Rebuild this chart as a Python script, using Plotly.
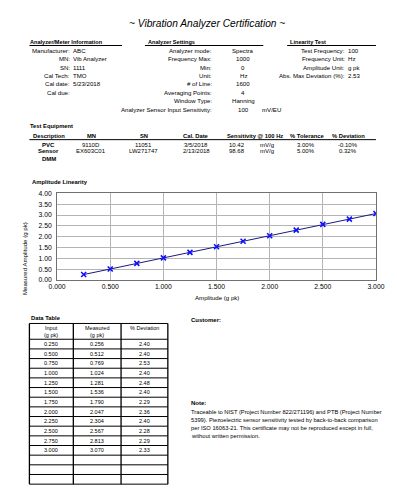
import plotly.graph_objects as go

W, H = 397, 489
FONT = "Liberation Sans, Arial, sans-serif"

# ---------------- data ----------------
input_g = [0.250, 0.500, 0.750, 1.000, 1.250, 1.500, 1.750, 2.000, 2.250, 2.500, 2.750, 3.000]
measured_g = [0.256, 0.512, 0.769, 1.024, 1.281, 1.536, 1.790, 2.047, 2.304, 2.567, 2.813, 3.070]
deviation_pct = [2.40, 2.40, 2.53, 2.40, 2.48, 2.40, 2.29, 2.36, 2.40, 2.28, 2.29, 2.33]
empty_rows = 3

meter_labels = ["Manufacturer:", "MN:", "SN:", "Cal Tech:", "Cal date:", "Cal due:"]
meter_values = ["ABC", "Vib Analyzer", "1111", "TMO", "5/23/2018", ""]

settings_labels = ["Analyzer mode:", "Frequency Max:", "Min:", "Unit:", "# of Line:",
                   "Averaging Points:", "Window Type:", "Analyzer Sensor Input Sensitivity:"]
settings_values = ["Spectra", "1000", "0", "Hz", "1600", "4", "Hanning", "100"]
settings_unit = "mV/EU"

linearity_labels = ["Test Frequency:", "Frequency Unit:", "Amplitude Unit:", "Abs. Max Deviation (%):"]
linearity_values = ["100", "Hz", "g pk", "2.53"]

equip_headers = ["Description", "MN", "SN", "Cal. Date", "Sensitivity @ 100 Hz", "% Tolerance", "% Deviation"]
equip_rows = [
    ["PVC", "9110D", "11051", "3/5/2018", "10.42", "mV/g", "3.00%", "-0.10%"],
    ["Sensor", "EX603C01", "LW271747", "2/13/2018", "98.68", "mV/g", "5.00%", "0.32%"],
    ["DMM", "", "", "", "", "", "", ""],
]

note_lines = [
    "Traceable to NIST (Project Number 822/271196) and PTB (Project Number",
    "5399). Piezoelectric sensor sensitivity tested by back-to-back comparison",
    "per ISO 16063-21. This certificate may not be reproduced except in full,",
    "without written permission.",
]

x_ticks = [0, 0.5, 1.0, 1.5, 2.0, 2.5, 3.0]
y_ticks = [0, 0.5, 1.0, 1.5, 2.0, 2.5, 3.0, 3.5, 4.0]

# ---------------- helpers ----------------
def X(px):
    return px / W

def Y(py):
    return 1 - py / H

annotations = []
shapes = []

def txt(x, y, s, size=6.1, bold=False, italic=False, anchor="left", angle=0):
    if bold:
        s = "<b>" + s + "</b>"
    if italic:
        s = "<i>" + s + "</i>"
    annotations.append(dict(
        x=X(x), y=Y(y), xref="paper", yref="paper", text=s, showarrow=False,
        xanchor=anchor, yanchor="middle", textangle=angle, borderpad=0, borderwidth=0,
        font=dict(size=size, family=FONT, color="black")))

def hline(x0, x1, y, color="black", width=1):
    shapes.append(dict(type="line", xref="paper", yref="paper",
                       x0=X(x0), x1=X(x1), y0=Y(y), y1=Y(y),
                       line=dict(color=color, width=width)))

def vline(x, y0, y1, color="black", width=1):
    shapes.append(dict(type="line", xref="paper", yref="paper",
                       x0=X(x), x1=X(x), y0=Y(y0), y1=Y(y1),
                       line=dict(color=color, width=width)))

# ---------------- header ----------------
txt(199, 12, "~ Vibration Analyzer Certification ~", size=10.2, italic=True, anchor="center")

txt(14, 30, "Analyzer/Meter Information", size=5.6, bold=True)
hline(13, 110, 34)
txt(137, 30, "Analyzer Settings", size=5.6, bold=True)
hline(134, 258, 34)
txt(286, 30, "Linearity Test", size=5.6, bold=True)
hline(283, 376, 34)

row_y = [39, 47.5, 56, 64.5, 73, 81.5, 90, 98.5]
for i, (lab, val) in enumerate(zip(meter_labels, meter_values)):
    txt(55, row_y[i], lab, anchor="right")
    txt(59, row_y[i], val)
for i, (lab, val) in enumerate(zip(settings_labels, settings_values)):
    txt(204, row_y[i], lab, anchor="right")
    txt(237, row_y[i], val, anchor="center")
txt(257, row_y[7], settings_unit)
for i, (lab, val) in enumerate(zip(linearity_labels, linearity_values)):
    txt(344, row_y[i], lab, anchor="right")
    txt(347, row_y[i], val)

# ---------------- test equipment ----------------
txt(14, 116, "Test Equipment", size=5.8, bold=True)
eq_head_x = [33, 78, 133, 188, 249, 304, 347]
for hx, h in zip(eq_head_x, equip_headers):
    txt(hx, 125.5, h, size=5.8, bold=True, anchor="center")
hline(13, 376, 129.5)
eq_col_x = [33, 78, 133, 188, 230, 262, 303, 347]
eq_row_y = [134.5, 141.5, 149]
for r, row in enumerate(equip_rows):
    for c, v in enumerate(row):
        if v:
            txt(eq_col_x[c], eq_row_y[r], v, size=6.0, bold=(c == 0), anchor="center")

# ---------------- chart labels ----------------
txt(16, 172, "Amplitude Linearity", size=5.9, bold=True)
txt(8, 250, "Measured Amplitude (g pk)", size=6.1, anchor="center", angle=-90)
txt(209, 290, "Amplitude (g pk)", size=6.1, anchor="center")

# ---------------- data table ----------------
txt(15, 310, "Data Table", size=5.8, bold=True)
col_x = [13, 59, 109, 158]
top, head_bot = 316, 332
n_rows = len(input_g) + empty_rows
row_h = (479 - head_bot) / n_rows
bottom = head_bot + n_rows * row_h
hline(col_x[0], col_x[-1], top, width=1)
hline(col_x[0], col_x[-1], head_bot, width=1)
for k in range(1, n_rows + 1):
    hline(col_x[0], col_x[-1], head_bot + k * row_h, width=1)
for cx in col_x:
    vline(cx, top, bottom, width=1.3)
centers = [(col_x[i] + col_x[i + 1]) / 2 for i in range(3)]
TS = 5.5
txt(centers[0], 320.5, "Input", size=TS, anchor="center")
txt(centers[0], 327.5, "(g pk)", size=TS, anchor="center")
txt(centers[1], 320.5, "Measured", size=TS, anchor="center")
txt(centers[1], 327.5, "(g pk)", size=TS, anchor="center")
txt(centers[2], 320.5, "% Deviation", size=TS, anchor="center")
for i, (a, m, d) in enumerate(zip(input_g, measured_g, deviation_pct)):
    yc = head_bot + (i + 0.5) * row_h
    txt(centers[0], yc, f"{a:.3f}", size=TS, anchor="center")
    txt(centers[1], yc, f"{m:.3f}", size=TS, anchor="center")
    txt(centers[2], yc, f"{d:.2f}", size=TS, anchor="center")

# ---------------- customer / note ----------------
txt(182, 312, "Customer:", size=6.0, bold=True)
txt(182, 397, "Note:", size=6.0, bold=True)
for i, line in enumerate(note_lines):
    txt(182, 406 + i * 8.1, line, size=5.75)

# bottom page edge
shapes.append(dict(type="rect", xref="paper", yref="paper", x0=0, x1=1,
                   y0=0, y1=Y(487), fillcolor="#e6e6e6", line=dict(width=0), layer="below"))

# ---------------- chart ----------------
fig = go.Figure()
fig.add_trace(go.Scatter(
    x=input_g, y=measured_g, mode="lines+markers",
    line=dict(color="#1a1a80", width=1),
    marker=dict(symbol="x-thin-open", size=5, color="#1010ff",
                line=dict(color="#1010ff", width=1.6)),
    hoverinfo="skip"))

fig.update_layout(
    width=W, height=H,
    margin=dict(l=0, r=0, t=0, b=0),
    paper_bgcolor="white", plot_bgcolor="white",
    showlegend=False,
    annotations=annotations, shapes=shapes,
    xaxis=dict(domain=[X(42), X(376)], range=[0, 3], tickvals=x_ticks,
               ticktext=[f"{v:.3f}" for v in x_ticks],
               showgrid=True, gridcolor="#b4b4b4", gridwidth=1,
               showline=True, linecolor="#707070", linewidth=1, mirror=True,
               zeroline=False, ticks="", tickfont=dict(size=6.8, family=FONT, color="black")),
    yaxis=dict(domain=[Y(272), Y(184)], range=[0, 4], tickvals=y_ticks,
               ticktext=[f"{v:.2f}" for v in y_ticks],
               showgrid=True, gridcolor="#b4b4b4", gridwidth=1,
               showline=True, linecolor="#707070", linewidth=1, mirror=True,
               zeroline=False, ticks="", ticklabelstandoff=3,
               tickfont=dict(size=6.8, family=FONT, color="black")),
)

fig.write_html("out.html")
